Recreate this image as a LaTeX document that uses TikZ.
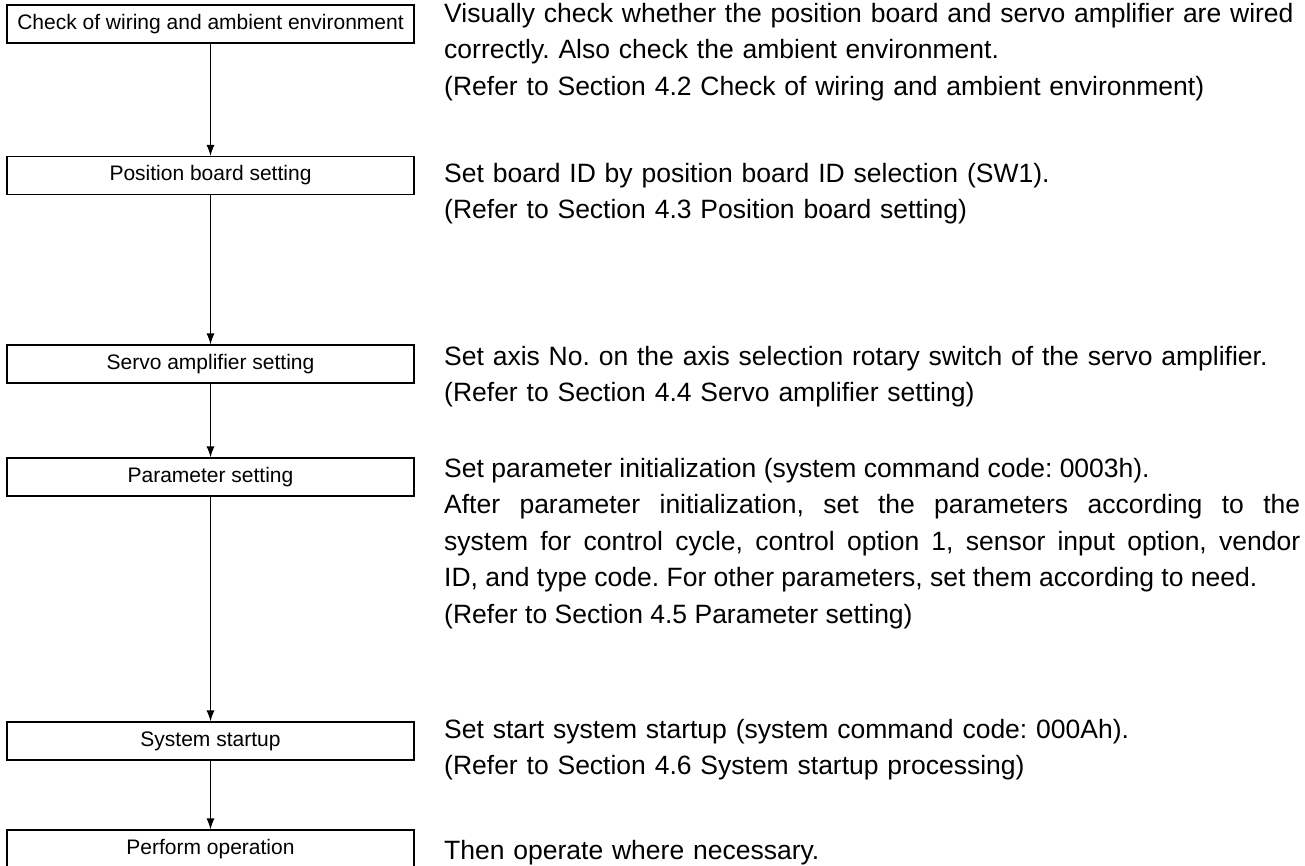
\documentclass[tikz,border=0pt]{standalone}
\usepackage{fontspec}
\setmainfont{Liberation Sans}
\usetikzlibrary{arrows.meta}
\frenchspacing

\begin{document}
\begin{tikzpicture}[x=1pt,y=-1pt,
  stepbox/.style={draw,line width=1.1pt,minimum width=407pt,minimum height=38pt,
    inner sep=0pt,font=\fontsize{21}{25}\selectfont},
  note/.style={anchor=north west,inner sep=0pt,text width=856pt,align=left,
    font=\fontsize{26.5}{36.5}\selectfont},
  flow/.style={line width=1.1pt,-{Latex[length=11pt,width=8pt]}}]
\useasboundingbox (0,0) rectangle (1305,865);
% steps
\node[stepbox] (check) at (210.5,24) {Check of wiring and ambient environment};
\node[stepbox] (board) at (210.5,175.5) {Position board setting};
\node[stepbox] (servo) at (210.5,364) {Servo amplifier setting};
\node[stepbox] (param) at (210.5,477) {Parameter setting};
\node[stepbox] (start) at (210.5,741) {System startup};
\node[stepbox] (oper) at (210.5,849) {Perform operation};
\draw[flow] (check) -- (board);
\draw[flow] (board) -- (servo);
\draw[flow] (servo) -- (param);
\draw[flow] (param) -- (start);
\draw[flow] (start) -- (oper);
% descriptions
\node[note] (checktxt) at (444,22-25.5) {\strut Visually check whether the position board and servo amplifier are wired\\
  correctly. Also check the ambient environment.\\
  (Refer to Section 4.2 Check of wiring and ambient environment)};
\node[note] (boardtxt) at (444,182-25.5) {\strut Set board ID by position board ID selection (SW1).\\
  (Refer to Section 4.3 Position board setting)};
\node[note] (servotxt) at (444,365-25.5) {\strut Set axis No. on the axis selection rotary switch of the servo amplifier.\\
  (Refer to Section 4.4 Servo amplifier setting)};
\node[note,align=justify] (paramtxt) at (444,477-25.5) {\strut Set parameter initialization (system command code: 0003h).\\
  After parameter initialization, set the parameters according to the\linebreak
  system for control cycle, control option 1, sensor input option, vendor\linebreak
  ID, and type code. For other parameters, set them according to need.\\
  (Refer to Section 4.5 Parameter setting)};
\node[note] (starttxt) at (444,738-25.5) {\strut Set start system startup (system command code: 000Ah).\\
  (Refer to Section 4.6 System startup processing)};
\node[note] (opertxt) at (444,859-25.5) {\strut Then operate where necessary.};
\end{tikzpicture}
\end{document}
